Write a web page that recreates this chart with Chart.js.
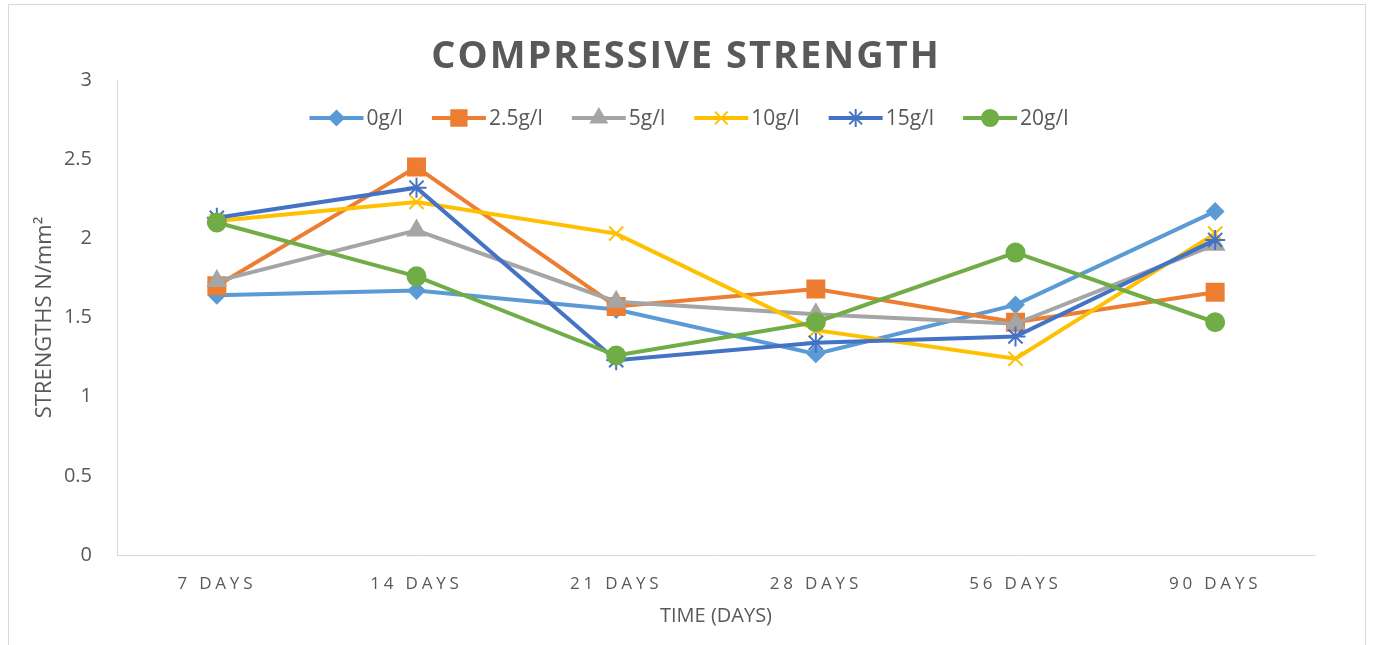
<!DOCTYPE html>
<html>
<head>
<meta charset="utf-8">
<script src="https://cdn.jsdelivr.net/npm/chart.js@4/dist/chart.umd.min.js"></script>
<style>
  html, body { margin: 0; padding: 0; background: #ffffff; }
  #wrap { position: relative; width: 1373px; height: 645px; overflow: hidden; }
  #frame { position: absolute; left: 8px; top: 4px; width: 1358px; height: 700px; border: 1px solid #d9d9d9; box-sizing: border-box; }
  #c { position: absolute; left: 0; top: 0; }
</style>
</head>
<body>
<div id="wrap">
  <div id="frame"></div>
  <canvas id="c" width="1373" height="645"></canvas>
</div>
<script>
// Curing ages
const categories = ['7 DAYS', '14 DAYS', '21 DAYS', '28 DAYS', '56 DAYS', '90 DAYS'];

// Compressive strength (N/mm²) per dosage
const dose0 = [1.64, 1.67, 1.55, 1.27, 1.58, 2.17];
const dose25 = [1.70, 2.45, 1.57, 1.68, 1.47, 1.66];
const dose5 = [1.73, 2.05, 1.60, 1.52, 1.46, 1.96];
const dose10 = [2.11, 2.23, 2.03, 1.42, 1.24, 2.03];
const dose15 = [2.13, 2.32, 1.23, 1.34, 1.38, 1.99];
const dose20 = [2.10, 1.76, 1.26, 1.47, 1.91, 1.47];

const seriesNames = ['0g/l', '2.5g/l', '5g/l', '10g/l', '15g/l', '20g/l'];
const yTickLabels = ['0', '0.5', '1', '1.5', '2', '2.5', '3'];

const titleText = 'COMPRESSIVE STRENGTH';
const yAxisTitle = 'STRENGTHS N/mm²';
const xAxisTitle = 'TIME (DAYS)';

const textColor = '#595959';
const axisColor = '#d9d9d9';
const FONT = "'Open Sans', 'Noto Sans', sans-serif";

// Category axis whose tick labels are letter-spaced
class SpacedCategoryScale extends Chart.CategoryScale {
  drawLabels(area) {
    const ctx = this.ctx;
    const prev = ctx.letterSpacing;
    ctx.letterSpacing = '3.8px';
    super.drawLabels(area);
    ctx.letterSpacing = prev || '0px';
  }
}
SpacedCategoryScale.id = 'spacedCategory';
SpacedCategoryScale.defaults = Chart.CategoryScale.defaults;
Chart.register(SpacedCategoryScale);

const styles = [
  { color: '#5B9BD5', pointStyle: 'rectRot', radius: 8 },
  { color: '#ED7D31', pointStyle: 'rect', radius: 12 },
  { color: '#A5A5A5', pointStyle: 'triangle', radius: 10 },
  { color: '#FFC000', pointStyle: 'crossRot', radius: 10 },
  { color: '#4472C4', pointStyle: 'star', radius: 10 },
  { color: '#70AD47', pointStyle: 'circle', radius: 9 }
];
const seriesData = [dose0, dose25, dose5, dose10, dose15, dose20];

const datasets = seriesData.map((d, i) => ({
  label: seriesNames[i],
  data: d,
  borderColor: styles[i].color,
  backgroundColor: styles[i].color,
  borderWidth: 4,
  pointStyle: styles[i].pointStyle,
  pointRadius: styles[i].radius,
  pointHoverRadius: styles[i].radius,
  pointBackgroundColor: styles[i].color,
  pointBorderColor: styles[i].color,
  pointBorderWidth: 2,
  tension: 0,
  fill: false,
  order: seriesData.length - 1 - i
}));

// Chart heading and the in-plot legend row
const decorations = {
  id: 'decorations',
  afterDraw(chart) {
    const ctx = chart.ctx;
    ctx.save();
    ctx.fillStyle = textColor;
    ctx.font = `bold 38px ${FONT}`;
    ctx.letterSpacing = '2px';
    ctx.textAlign = 'center';
    ctx.textBaseline = 'alphabetic';
    ctx.fillText(titleText, 686, 68);
    ctx.restore();

    ctx.save();
    ctx.font = `21px ${FONT}`;
    ctx.textBaseline = 'middle';
    ctx.textAlign = 'left';
    const lineLen = 54, textGap = 3, itemGap = 29, y = 118;
    const widths = seriesNames.map(n => ctx.measureText(n).width);
    const total = widths.reduce((a, w) => a + lineLen + textGap + w, 0) + itemGap * (seriesNames.length - 1);
    let x = 689 - total / 2;
    seriesNames.forEach((name, i) => {
      const st = styles[i];
      ctx.strokeStyle = st.color;
      ctx.fillStyle = st.color;
      ctx.lineWidth = 4;
      ctx.beginPath();
      ctx.moveTo(x, y);
      ctx.lineTo(x + lineLen, y);
      ctx.stroke();
      ctx.lineWidth = 2;
      Chart.helpers.drawPoint(ctx, { pointStyle: st.pointStyle, radius: st.radius * 0.9, rotation: 0, borderWidth: 2 }, x + lineLen / 2, y);
      ctx.fillStyle = textColor;
      ctx.fillText(name, x + lineLen + textGap, y + 1);
      x += lineLen + textGap + widths[i] + itemGap;
    });
    ctx.restore();
  }
};

new Chart(document.getElementById('c'), {
  type: 'line',
  data: { labels: categories, datasets },
  options: {
    responsive: false,
    animation: false,
    devicePixelRatio: 1,
    layout: { padding: { top: 80, right: 58, bottom: 0, left: 0 } },
    plugins: {
      legend: { display: false },
      title: { display: false },
      tooltip: { enabled: false }
    },
    scales: {
      x: {
        type: 'spacedCategory',
        offset: true,
        grid: { display: false, offset: true },
        border: { display: true, color: axisColor, width: 1 },
        ticks: { color: textColor, font: { family: FONT, size: 17 }, padding: 11, maxRotation: 0, autoSkip: false },
        title: { display: true, text: xAxisTitle, color: textColor, font: { family: FONT, size: 20 }, padding: { top: 0, bottom: 17 } },
        afterFit(scale) { scale.height = 90; }
      },
      y: {
        min: 0,
        max: 3,
        grid: { display: false },
        border: { display: true, color: axisColor, width: 1 },
        ticks: {
          stepSize: 0.5,
          color: textColor,
          font: { family: FONT, size: 20 },
          padding: 17,
          callback: (v, i) => yTickLabels[i]
        },
        title: { display: true, text: yAxisTitle, color: textColor, font: { family: FONT, size: 22 }, padding: { top: 32, bottom: 0 } },
        afterFit(scale) { scale.width = 117; }
      }
    }
  },
  plugins: [decorations]
});
</script>
</body>
</html>
